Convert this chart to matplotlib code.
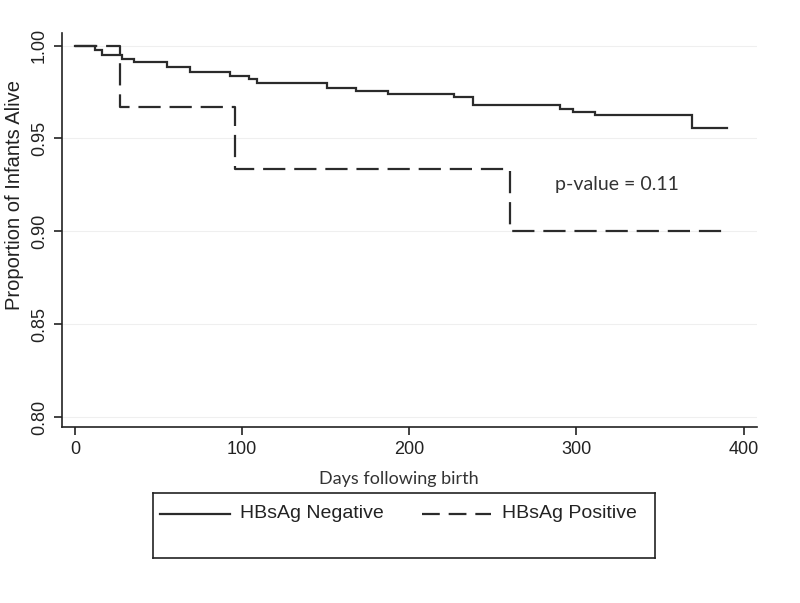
import matplotlib
matplotlib.use("Agg")
import matplotlib.pyplot as plt
from matplotlib.lines import Line2D

# Kaplan-Meier estimates
neg_days = [0, 12, 16, 28, 35, 55, 69, 93, 104, 109, 151, 168, 187, 227, 238, 290, 298, 311, 369, 390]
neg_surv = [1.0, 0.9975, 0.995, 0.9927, 0.991, 0.9887, 0.9857, 0.9837, 0.982, 0.980,
            0.9774, 0.9758, 0.9738, 0.9724, 0.968, 0.966, 0.9645, 0.9629, 0.9559, 0.9559]
pos_days = [0, 27, 96, 260, 390]
pos_surv = [1.0, 0.9667, 0.9333, 0.90, 0.90]

x_ticks = [0, 100, 200, 300, 400]
y_ticks = [0.80, 0.85, 0.90, 0.95, 1.00]
labels = ["HBsAg Negative", "HBsAg Positive"]
annotation = "p-value = 0.11"

W, H = 800, 603
fig = plt.figure(figsize=(W / 100, H / 100), dpi=100)
fig.patch.set_facecolor("white")

def fx(px):
    return px / W

def fy(py):
    return 1 - py / H

ax = fig.add_axes([fx(62), fy(427), fx(757) - fx(62), fy(33) - fy(427)])
ax.set_xlim(-7.8, 408)
ax.set_ylim(0.7946, 1.0068)

line_color = "#2b2b2b"
dash = (0, (10.0, 4.0))
ax.plot(neg_days, neg_surv, drawstyle="steps-post", color=line_color, lw=1.6,
        solid_joinstyle="miter", zorder=3)
ax.plot(pos_days, pos_surv, drawstyle="steps-post", color=line_color, lw=1.6,
        linestyle=dash, zorder=3)

for yv in y_ticks:
    ax.axhline(yv, color="#efefef", lw=0.8, zorder=1)

for s in ["top", "right"]:
    ax.spines[s].set_visible(False)
for s in ["left", "bottom"]:
    ax.spines[s].set_color("#222222")
    ax.spines[s].set_linewidth(1.2)

ax.set_xticks(x_ticks)
ax.set_yticks(y_ticks)
ax.set_yticklabels([f"{v:.2f}" for v in y_ticks], rotation=90, va="center",
                   family="Liberation Sans", fontsize=13, color="#222222")
ax.set_xticklabels([str(v) for v in x_ticks], family="Liberation Sans",
                   fontsize=13, color="#222222")
ax.tick_params(axis="both", direction="out", length=6, width=1.2, color="#222222", pad=4)

fig.text(fx(15), fy(195), "Proportion of Infants Alive", family="Liberation Sans",
         fontsize=14.5, color="#222222", rotation=90, ha="center", va="center")

ax.text(287, 0.925, annotation, family="Lato", fontsize=14, color="#333333",
        ha="left", va="center")

# x-axis title (Calibri-like), with white background breaking the legend frame
fig.text(fx(399), fy(479), "Days following birth", family="Lato", fontsize=13,
         color="#333333", ha="center", va="center",
         bbox=dict(facecolor="white", edgecolor="none", pad=1.5), zorder=5)

# legend box (Stata style)
lx0, lx1, ly0, ly1 = 153, 655, 493, 558
for (xa, ya, xb, yb) in [(lx0, ly0, lx1, ly0), (lx1, ly0, lx1, ly1),
                         (lx1, ly1, lx0, ly1), (lx0, ly1, lx0, ly0)]:
    fig.add_artist(Line2D([fx(xa), fx(xb)], [fy(ya), fy(yb)], color="#222222",
                          lw=1.2, zorder=2))

fig.add_artist(Line2D([fx(160), fx(230)], [fy(514), fy(514)], color=line_color, lw=1.6))
fig.text(fx(240), fy(514), labels[0], family="Liberation Sans", fontsize=14,
         color="#222222", ha="left", va="center")
fig.add_artist(Line2D([fx(422), fx(491)], [fy(514), fy(514)], color=line_color, lw=1.6,
                      linestyle=(0, (8.0, 4.0))))
fig.text(fx(502), fy(514), labels[1], family="Liberation Sans", fontsize=14,
         color="#222222", ha="left", va="center")

fig.savefig("out.png", dpi=100, facecolor="white")
